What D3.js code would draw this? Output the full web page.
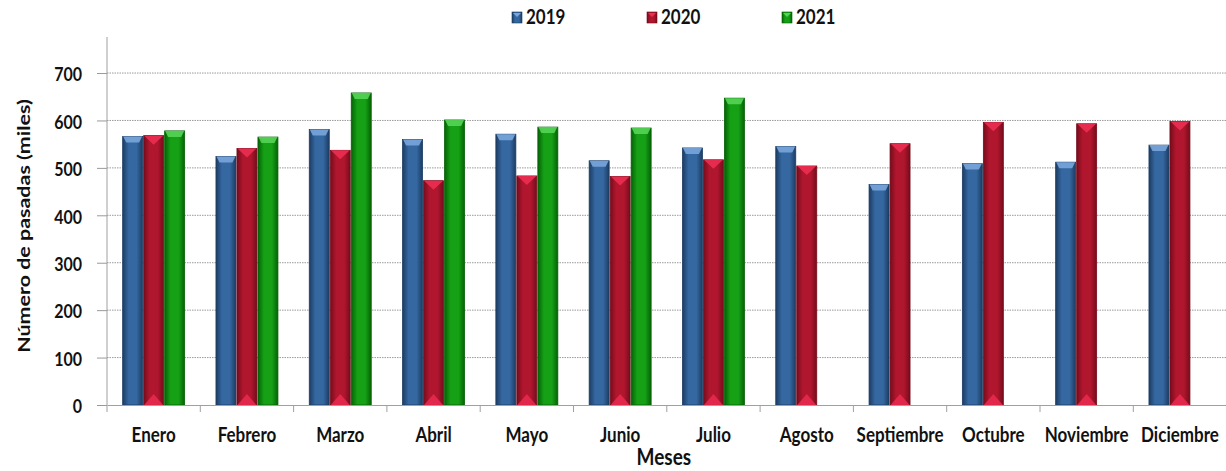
<!DOCTYPE html>
<html>
<head>
<meta charset="utf-8">
<script src="https://cdn.jsdelivr.net/npm/d3@7"></script>
<style>
  body { margin: 0; background: #fff; }
  text { font-family: Lato, "Open Sans", sans-serif; font-weight: 700; fill: #111; }
</style>
</head>
<body>
<div class="vis-bars"></div>
<script>
const months = ["Enero", "Febrero", "Marzo", "Abril", "Mayo", "Junio", "Julio",
    "Agosto", "Septiembre", "Octubre", "Noviembre", "Diciembre"];
const years = ["2019", "2020", "2021"];
const values2019 = [566, 524, 581, 560, 571, 515, 542, 545, 465, 509, 512, 548];
const values2020 = [568, 541, 537, 473, 483, 482, 517, 504, 551, 596, 593, 598];
const values2021 = [578, 565, 658, 601, 586, 584, 647, null, null, null, null, null];
const yTicks = [0, 100, 200, 300, 400, 500, 600, 700];

const series = { "2019": values2019, "2020": values2020, "2021": values2021 };

const draw = () => {
    const W = 1226, H = 471;
    let margin = { top: 37, right: 0, bottom: 66, left: 107 };
    const width = W - margin.left - margin.right + 0.6;
    const height = H - margin.top - margin.bottom;
    const stretch = 1.22; // the source picture has tall, narrow lettering

    let svg = d3.select(".vis-bars")
        .append("svg")
        .attr("width", W)
        .attr("height", H);

    // gradients for the glossy bars
    const pal = {
        "2019": { dark: "#1c3c63", mid: "#3567a0", light: "#79a6dc" },
        "2020": { dark: "#760c1c", mid: "#b0162e", light: "#ec2f52" },
        "2021": { dark: "#056205", mid: "#16a016", light: "#55d455" }
    };
    const defs = svg.append("defs");
    years.forEach(function(yr) {
        let g = defs.append("linearGradient").attr("id", "g" + yr)
            .attr("x1", "0").attr("x2", "1").attr("y1", "0").attr("y2", "0");
        g.append("stop").attr("offset", "0%").attr("stop-color", pal[yr].dark);
        g.append("stop").attr("offset", "30%").attr("stop-color", pal[yr].mid);
        g.append("stop").attr("offset", "70%").attr("stop-color", pal[yr].mid);
        g.append("stop").attr("offset", "100%").attr("stop-color", pal[yr].dark);
    });

    let plot = svg.append("g")
        .attr("transform", "translate(" + margin.left + "," + margin.top + ")");

    let x0 = d3.scaleBand()
        .domain(months)
        .range([0, width])
        .paddingInner(0.325)
        .paddingOuter(0.1625);
    let x1 = d3.scaleBand()
        .domain(years)
        .range([0, x0.bandwidth()]);
    let y = d3.scaleLinear()
        .domain([0, 776])
        .range([height, 0]);

    // dotted grid lines
    plot.append("g")
        .selectAll("line")
        .data(yTicks.filter(d => d > 0))
        .enter()
        .append("line")
        .attr("x1", 0).attr("x2", width)
        .attr("y1", d => y(d)).attr("y2", d => y(d))
        .attr("stroke", "#9a9a9a")
        .attr("stroke-width", 1)
        .attr("stroke-dasharray", "1.5,1");

    // bars
    const data = [];
    months.forEach(function(m, i) {
        years.forEach(function(yr) {
            if (series[yr][i] != null) data.push({ month: m, year: yr, value: series[yr][i] });
        });
    });

    let bars = plot.append("g")
        .selectAll("g")
        .data(data)
        .enter()
        .append("g")
        .attr("transform", d => "translate(" + (x0(d.month) + x1(d.year)) + ",0)");

    const bw = x1.bandwidth();
    bars.append("rect")
        .attr("x", 0.5)
        .attr("y", d => y(d.value))
        .attr("width", bw - 1)
        .attr("height", d => y(0) - y(d.value))
        .attr("fill", d => "url(#g" + d.year + ")")
        .attr("stroke", d => pal[d.year].dark)
        .attr("stroke-width", 0.8);

    // top bevel
    bars.append("path")
        .attr("d", function(d) {
            const t = y(d.value);
            if (d.year === "2020") {
                return "M1," + t + "L" + (bw - 1) + "," + t + "L" + (bw / 2) + "," + (t + 9) + "Z";
            }
            return "M1," + t + "L" + (bw - 1) + "," + t + "L" + (bw - 4) + "," + (t + 6) + "L4," + (t + 6) + "Z";
        })
        .attr("fill", d => pal[d.year].light)
        .attr("opacity", 0.9);

    // bottom glow on the red bars
    bars.filter(d => d.year === "2020")
        .append("path")
        .attr("d", function() {
            const b = y(0);
            return "M1," + b + "L" + (bw - 1) + "," + b + "L" + (bw / 2) + "," + (b - 11) + "Z";
        })
        .attr("fill", "#ea2a50")
        .attr("opacity", 0.85);

    // y axis
    let yAxis = plot.append("g")
        .call(d3.axisLeft(y).tickValues(yTicks).tickSize(10).tickPadding(15));
    yAxis.select(".domain").remove();
    yAxis.selectAll("line").attr("stroke", "#999");
    yAxis.selectAll("text")
        .style("font-size", "16px")
        .style("font-family", "Lato, 'Open Sans', sans-serif")
        .style("font-weight", "700")
        .attr("fill", "#111")
        .attr("dy", "0.4em")
        .attr("transform", "scale(1," + stretch + ")");
    plot.append("line")
        .attr("x1", 0).attr("x2", 0)
        .attr("y1", 0).attr("y2", height + 7)
        .attr("stroke", "#a0a0a0");

    // x axis
    let xAxis = plot.append("g")
        .attr("transform", "translate(0," + height + ")")
        .call(d3.axisBottom(x0).tickSize(0).tickPadding(0));
    xAxis.select(".domain").attr("stroke", "#a0a0a0");
    xAxis.selectAll("text")
        .style("font-size", "17px")
        .style("font-family", "Lato, 'Open Sans', sans-serif")
        .style("font-weight", "700")
        .attr("fill", "#111")
        .attr("dy", null)
        .attr("y", 0)
        .attr("transform", "translate(0,37) scale(1," + stretch + ")");
    xAxis.append("g")
        .selectAll("line")
        .data(months)
        .enter()
        .append("line")
        .attr("x1", d => x0(d) + x0.bandwidth() + x0.step() * 0.1625)
        .attr("x2", d => x0(d) + x0.bandwidth() + x0.step() * 0.1625)
        .attr("y1", 0).attr("y2", 7)
        .attr("stroke", "#a0a0a0");

    // axis titles
    svg.append("text")
        .attr("transform", "translate(" + (margin.left + width / 2 - 3) + ",465) scale(1,1.18)")
        .attr("text-anchor", "middle")
        .style("font-size", "19px")
        .text("Meses");
    svg.append("text")
        .attr("transform", "translate(30,226) rotate(-90) scale(1.3,1)")
        .attr("text-anchor", "middle")
        .style("font-size", "16.5px")
        .text("Número de pasadas (miles)");

    // legend
    const legendX = { "2019": 512, "2020": 647, "2021": 782 };
    let legend = svg.append("g")
        .selectAll("g")
        .data(years)
        .enter()
        .append("g")
        .attr("transform", d => "translate(" + legendX[d] + ",12)");
    legend.append("rect")
        .attr("width", 10).attr("height", 11)
        .attr("fill", d => "url(#g" + d + ")")
        .attr("stroke", d => pal[d].dark)
        .attr("stroke-width", 0.6);
    legend.append("path")
        .attr("d", "M1,1L9,1L5,5Z")
        .attr("fill", d => pal[d].light);
    legend.append("text")
        .attr("transform", "translate(14,12) scale(1,1.2)")
        .style("font-size", "17px")
        .text(d => d);
};

draw();
</script>
</body>
</html>
